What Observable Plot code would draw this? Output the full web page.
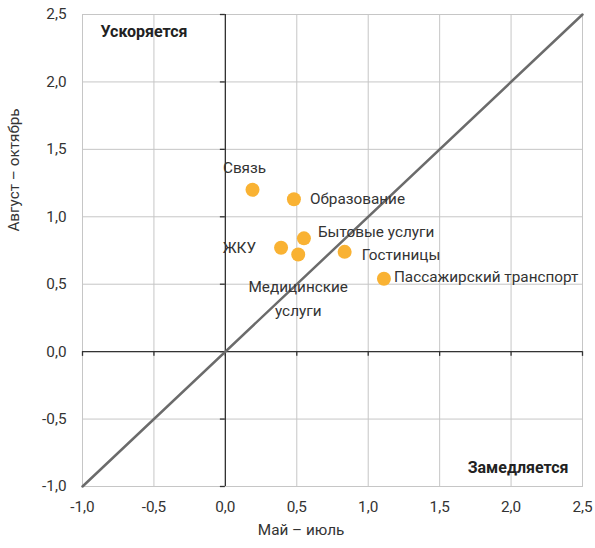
<!DOCTYPE html>
<html>
<head>
<meta charset="utf-8">
<script src="https://cdn.jsdelivr.net/npm/d3@7"></script>
<script src="https://cdn.jsdelivr.net/npm/@observablehq/plot@0.6"></script>
<style>
  html, body { margin: 0; padding: 0; background: #fff; }
  #chart svg { display: block; }
</style>
</head>
<body>
<div id="chart"></div>
<script>
// Data
const categories = ["Связь", "Образование", "Бытовые услуги", "ЖКУ", "Медицинские\nуслуги", "Гостиницы", "Пассажирский транспорт"];
const mayJuly = [0.19, 0.48, 0.55, 0.39, 0.51, 0.835, 1.11];
const augOct  = [1.20, 1.13, 0.84, 0.77, 0.72, 0.74, 0.54];
const tickValues = [-1, -0.5, 0, 0.5, 1, 1.5, 2, 2.5];
const diagonal = [-1, 2.5];
const xLabel = "Май – июль";
const yLabel = "Август – октябрь";
const quadrantTop = "Ускоряется";
const quadrantBottom = "Замедляется";

const data = categories.map((c, i) => ({name: c, x: mayJuly[i], y: augOct[i]}));

// label placement (presentation only)
const place = {
  "Связь": {dx: -8, dy: -25, anchor: "middle"},
  "Образование": {dx: 16, dy: -3, anchor: "start"},
  "Бытовые услуги": {dx: 14, dy: -9, anchor: "start"},
  "ЖКУ": {dx: -25, dy: -2, anchor: "end"},
  "Медицинские\nуслуги": {dx: 0, dy: 42, anchor: "middle"},
  "Гостиницы": {dx: 17, dy: 0, anchor: "start"},
  "Пассажирский транспорт": {dx: 10, dy: -5, anchor: "start"}
};

const fmt = d => d.toFixed(1).replace(".", ",");
const textColor = "#333";
const font = "Roboto, 'Noto Sans', sans-serif";
const fs = 15.3;

const labelMarks = data.map(d => {
  const p = place[d.name];
  return Plot.text([d], {
    x: "x", y: "y", text: "name",
    dx: p.dx, dy: p.dy, textAnchor: p.anchor,
    fontSize: fs, fill: textColor, lineHeight: 1.57
  });
});

const chart = Plot.plot({
  width: 595,
  height: 548,
  marginLeft: 82,
  marginRight: 13,
  marginTop: 14,
  marginBottom: 62,
  style: {fontFamily: font, fontSize: "15px", color: textColor, background: "#fff"},
  x: {domain: [-1, 2.5], ticks: tickValues, tickFormat: fmt, label: null},
  y: {domain: [-1, 2.5], ticks: tickValues, tickFormat: fmt, label: null},
  marks: [
    Plot.gridX(tickValues, {stroke: "#c6c6c6", strokeOpacity: 1, strokeWidth: 1}),
    Plot.gridY(tickValues, {stroke: "#c6c6c6", strokeOpacity: 1, strokeWidth: 1}),
    Plot.frame({stroke: "#c6c6c6", strokeWidth: 1}),
    Plot.ruleX([0], {stroke: "#333", strokeWidth: 1.3}),
    Plot.ruleY([0], {stroke: "#333", strokeWidth: 1.3}),
    Plot.ruleX(tickValues, {x: d => d, y1: 0, y2: -0.035, stroke: "#333", strokeWidth: 1.3}),
    Plot.ruleY(tickValues, {y: d => d, x1: -0.035, x2: 0, stroke: "#333", strokeWidth: 1.3}),
    Plot.line(diagonal.map(v => [v, v]), {x: d => d[0], y: d => d[1], stroke: "#6b6b6b", strokeWidth: 2.5}),
    Plot.axisX(tickValues, {tickSize: 0, tickPadding: 15, fontSize: fs, fill: textColor, tickFormat: fmt, label: null}),
    Plot.axisY(tickValues, {tickSize: 0, tickPadding: 16, fontSize: fs, fill: textColor, tickFormat: fmt, label: null}),
    Plot.dot(data, {x: "x", y: "y", r: 7, fill: "#F9B233", stroke: "none"}),
    ...labelMarks,
    Plot.text([quadrantTop], {frameAnchor: "top-left", dx: 18, dy: 11, fontWeight: "bold", fontSize: 16, fill: "#222", textAnchor: "start", lineAnchor: "top"}),
    Plot.text([quadrantBottom], {frameAnchor: "bottom-right", dx: -14, dy: -14, fontWeight: "bold", fontSize: 16, fill: "#222", textAnchor: "end", lineAnchor: "bottom"}),
    Plot.text([xLabel], {x: 0.53, frameAnchor: "bottom", dy: 48, fontSize: fs, fill: textColor}),
    Plot.text([yLabel], {y: 0.89, frameAnchor: "left", dx: -68, rotate: -90, fontSize: fs, fill: textColor})
  ]
});

document.getElementById("chart").appendChild(chart);
</script>
</body>
</html>
